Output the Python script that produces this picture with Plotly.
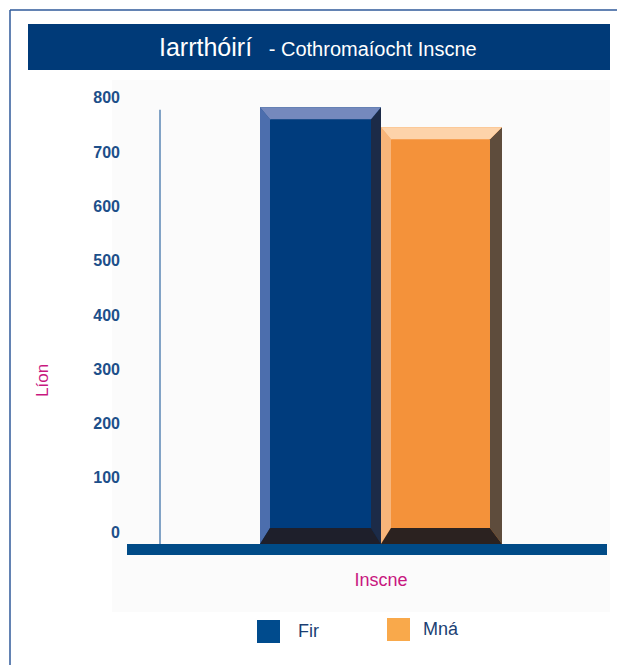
import plotly.graph_objects as go

# ---- data ----
categories = ["Inscne"]
series_names = ["Fir", "Mná"]
fir_values = [805]
mna_values = [768]
y_ticks = [0, 100, 200, 300, 400, 500, 600, 700, 800]

W, H = 617, 665
L, R, T, B = 160, 15, 99, 121
PW, PH = W - L - R, H - T - B
YMAX = 820
BARGAP = 0.4525

front = ["#003C7D", "#F4923A"]
top_c = ["#7589BD", "#FDD3AA"]
left_c = ["#4C6EAD", "#F8B57A"]
right_c = ["#1C2B48", "#5E4C3C"]
bot_c = ["#1E1F2B", "#2B2220"]
legend_c = ["#004B8D", "#F9A94B"]

fig = go.Figure()
for name, vals, col in [(series_names[0], fir_values, front[0]), (series_names[1], mna_values, front[1])]:
    fig.add_trace(go.Bar(x=categories, y=vals, name=name, marker=dict(color=col, line=dict(width=0)),
                         showlegend=False, hoverinfo="y+name"))

def px_x(p):
    return (p - L) / PW
def px_y(p):
    return (H - B - p) / PH

shapes = []
# faint background panel
shapes.append(dict(type="rect", xref="paper", yref="paper", x0=px_x(112), x1=px_x(610),
                   y0=px_y(612), y1=px_y(80), fillcolor="#FBFBFB", line=dict(width=0), layer="below"))
# bevels derived from bar values
group_w = 1 - BARGAP
bw = group_w / 2
ux = PW / 1.0          # px per category unit
uy = PH / YMAX         # px per value unit
for i, vals in enumerate([fir_values, mna_values]):
    v = vals[0]
    x0 = -group_w / 2 + i * bw
    x1 = x0 + bw
    dxl = 10 / ux
    dxr = (10 if i == 0 else 12) / ux
    dyt = 12 / uy
    dyb = 16 / uy
    paths = [
        (left_c[i], f"M{x0},0 L{x0},{v} L{x0+dxl},{v-dyt} L{x0+dxl},{dyb} Z"),
        (right_c[i], f"M{x1},0 L{x1},{v} L{x1-dxr},{v-dyt} L{x1-dxr},{dyb} Z"),
        (top_c[i], f"M{x0},{v} L{x1},{v} L{x1-dxr},{v-dyt} L{x0+dxl},{v-dyt} Z"),
        (bot_c[i], f"M{x0},0 L{x1},0 L{x1-dxr},{dyb} L{x0+dxl},{dyb} Z"),
    ]
    for c, p in paths:
        shapes.append(dict(type="path", xref="x", yref="y", path=p, fillcolor=c, line=dict(width=0), layer="above"))

# vertical axis line
shapes.append(dict(type="line", xref="paper", yref="y", x0=0, x1=0, y0=-5, y1=y_ticks[-1],
                   line=dict(color="#5A86B5", width=1.5)))
# thick baseline
shapes.append(dict(type="rect", xref="paper", yref="paper", x0=px_x(127), x1=px_x(607),
                   y0=px_y(555), y1=px_y(544), fillcolor="#004B87", line=dict(width=0), layer="above"))
# title banner
shapes.append(dict(type="rect", xref="paper", yref="paper", x0=px_x(28), x1=px_x(610),
                   y0=px_y(70), y1=px_y(24), fillcolor="#003A78", line=dict(width=0)))
# outer frame
shapes.append(dict(type="line", xref="paper", yref="paper", x0=px_x(10), x1=px_x(10),
                   y0=px_y(10), y1=px_y(665), line=dict(color="#2F5A9A", width=1.5)))
shapes.append(dict(type="line", xref="paper", yref="paper", x0=px_x(10), x1=px_x(617),
                   y0=px_y(10), y1=px_y(10), line=dict(color="#2F5A9A", width=1.5)))
# legend squares
shapes.append(dict(type="rect", xref="paper", yref="paper", x0=px_x(257), x1=px_x(280),
                   y0=px_y(643), y1=px_y(620), fillcolor=legend_c[0], line=dict(width=0)))
shapes.append(dict(type="rect", xref="paper", yref="paper", x0=px_x(387), x1=px_x(410),
                   y0=px_y(641), y1=px_y(618), fillcolor=legend_c[1], line=dict(width=0)))

annotations = [
    dict(xref="paper", yref="paper", x=px_x(318), y=px_y(47), showarrow=False,
         text="<span style='font-size:25px'>Iarrthóirí</span>&nbsp;&nbsp;&nbsp;- Cothromaíocht Inscne",
         font=dict(family="Liberation Sans, Arial", size=20, color="white"), xanchor="center", yanchor="middle"),
    dict(xref="paper", yref="paper", x=px_x(42), y=px_y(381), showarrow=False, text="Líon", textangle=-90,
         font=dict(family="Liberation Sans, Arial", size=17, color="#C8187F"), xanchor="center", yanchor="middle"),
    dict(xref="paper", yref="paper", x=px_x(296), y=px_y(631), showarrow=False, text=series_names[0],
         font=dict(family="Liberation Sans, Arial", size=18, color="#1B3F73"), xanchor="left", yanchor="middle"),
    dict(xref="paper", yref="paper", x=px_x(421), y=px_y(629), showarrow=False, text=series_names[1],
         font=dict(family="Liberation Sans, Arial", size=18, color="#1B3F73"), xanchor="left", yanchor="middle"),
]

fig.update_layout(
    width=W, height=H,
    margin=dict(l=L, r=R, t=T, b=B),
    paper_bgcolor="white", plot_bgcolor="rgba(0,0,0,0)",
    barmode="group", bargap=BARGAP, bargroupgap=0,
    shapes=shapes, annotations=annotations,
    showlegend=False,
    xaxis=dict(showgrid=False, zeroline=False, showline=False, ticks="",
               tickfont=dict(family="Liberation Sans, Arial", size=18, color="#C8187F"),
               ticklabelstandoff=23, fixedrange=True),
    yaxis=dict(range=[0, YMAX], tickvals=y_ticks, ticktext=[str(t) for t in y_ticks],
               showgrid=False, zeroline=False, showline=False, ticks="",
               tickfont=dict(family="Liberation Sans, Arial", size=16, color="#1D4F8A", weight="bold"),
               ticklabelstandoff=39, ticklabelshift=-12, fixedrange=True),
)

fig.write_html("out.html", config={"displayModeBar": False},
               post_script="document.body.style.margin='0';document.body.style.overflow='hidden';")
